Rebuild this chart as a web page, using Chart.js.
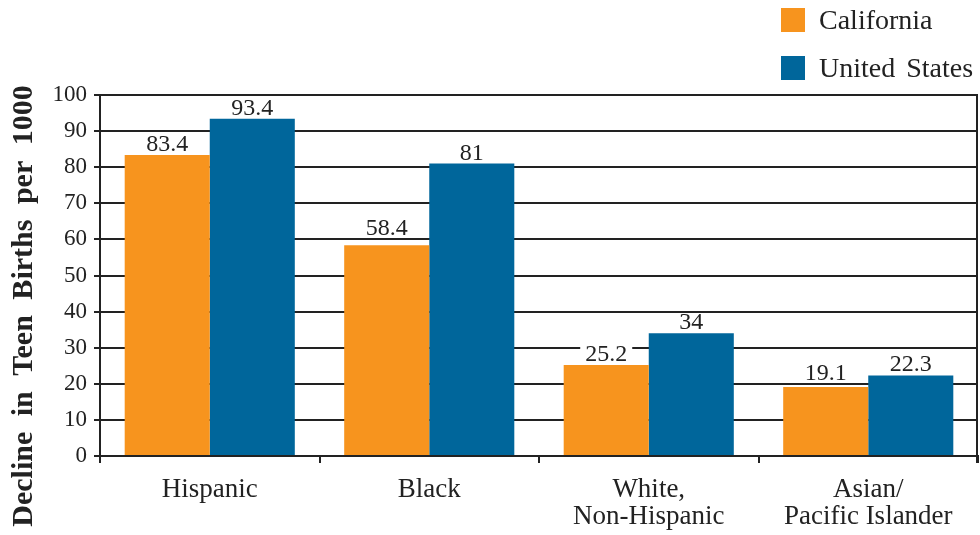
<!DOCTYPE html>
<html>
<head>
<meta charset="utf-8">
<script src="https://cdn.jsdelivr.net/npm/chart.js@4.4.1/dist/chart.umd.min.js"></script>
<style>
  html, body { margin: 0; padding: 0; background: #fff; }
  #wrap { position: relative; width: 980px; height: 535px; }
  #legend { position: absolute; left: 781px; top: 8px; font-family: "Liberation Serif", "DejaVu Serif", serif; font-size: 28px; color: #222; }
  .item { display: flex; align-items: center; height: 24px; margin-bottom: 24px; white-space: nowrap; }
  .swatch { width: 24px; height: 24px; margin-right: 14px; flex: none; }
  .item span { word-spacing: 4px; }
</style>
</head>
<body>
<div id="wrap">
  <canvas id="chart" width="980" height="535"></canvas>
  <div id="legend"></div>
</div>
<script>
const categories = [['Hispanic'], ['Black'], ['White,', 'Non-Hispanic'], ['Asian/', 'Pacific Islander']];
const seriesNames = ['California', 'United States'];
const californiaValues = [83.4, 58.4, 25.2, 19.1];
const unitedStatesValues = [93.4, 81, 34, 22.3];
const yTicks = [0, 10, 20, 30, 40, 50, 60, 70, 80, 90, 100];
const colors = ['#F7941E', '#00669B'];
const yTitle = 'Decline in Teen Births per 1000';

const FONT = '"Liberation Serif", "DejaVu Serif", serif';
const INK = '#222';

// legend built from the series names and colours
const legendEl = document.getElementById('legend');
seriesNames.forEach((name, i) => {
    const row = document.createElement('div');
    row.className = 'item';
    row.innerHTML = '<div class="swatch" style="background:' + colors[i] + '"></div><span>' + name + '</span>';
    legendEl.appendChild(row);
});

// value above each bar; if a gridline runs just above the bar the label
// hops over it, otherwise a white box breaks the gridline behind the text
const valueLabels = {
    id: 'valueLabels',
    afterDatasetsDraw(chart) {
        const ctx = chart.ctx;
        const y = chart.scales.y;
        ctx.save();
        ctx.font = '24px ' + FONT;
        ctx.textAlign = 'center';
        ctx.textBaseline = 'alphabetic';
        chart.data.datasets.forEach((ds, i) => {
            chart.getDatasetMeta(i).data.forEach((bar, j) => {
                const txt = String(ds.data[j]);
                const w = ctx.measureText(txt).width;
                let base = bar.y - 4;
                let boxed = false;
                yTicks.forEach(v => {
                    const gy = y.getPixelForValue(v);
                    if (gy >= base - 16 && gy <= base + 2) {
                        if (gy > base - 8) base = gy - 4;
                        else boxed = true;
                    }
                });
                if (boxed) {
                    ctx.fillStyle = '#fff';
                    ctx.fillRect(bar.x - w / 2 - 5, base - 16, w + 10, 17);
                }
                ctx.fillStyle = INK;
                ctx.fillText(txt, bar.x, base);
            });
        });
        ctx.restore();
    }
};

const frame = {
    id: 'frame',
    afterDraw(chart) {
        const ctx = chart.ctx;
        const a = chart.chartArea;
        ctx.save();
        ctx.strokeStyle = INK;
        ctx.lineWidth = 2;
        ctx.beginPath();
        ctx.moveTo(a.right - 1, a.top);
        ctx.lineTo(a.right - 1, a.bottom + 7);
        ctx.stroke();
        // rotated y title
        ctx.translate(24, 306);
        ctx.rotate(-Math.PI / 2);
        ctx.font = 'bold 30px ' + FONT;
        ctx.wordSpacing = '8px';
        ctx.fillStyle = INK;
        ctx.textAlign = 'center';
        ctx.textBaseline = 'middle';
        ctx.fillText(yTitle, 0, 0);
        ctx.restore();
    }
};

new Chart(document.getElementById('chart'), {
    type: 'bar',
    data: {
        labels: categories,
        datasets: [
            { label: seriesNames[0], data: californiaValues, backgroundColor: colors[0] },
            { label: seriesNames[1], data: unitedStatesValues, backgroundColor: colors[1] }
        ]
    },
    options: {
        responsive: false,
        animation: false,
        layout: { padding: { top: 95, right: 2, left: 0, bottom: 0 } },
        datasets: { bar: { barPercentage: 1, categoryPercentage: 0.775 } },
        plugins: { legend: { display: false }, tooltip: { enabled: false } },
        scales: {
            x: {
                offset: true,
                grid: { offset: true, drawOnChartArea: false, color: INK, lineWidth: 2, tickLength: 7 },
                border: { display: true, color: INK, width: 2 },
                ticks: { color: INK, font: { family: FONT, size: 27, lineHeight: 1 }, padding: 13, maxRotation: 0, autoSkip: false },
                afterFit: s => { s.height = 79; }
            },
            y: {
                min: 0,
                max: 100,
                afterBuildTicks: s => { s.ticks = yTicks.map(v => ({ value: v })); },
                grid: { color: INK, lineWidth: 2, tickLength: 6 },
                border: { display: true, color: INK, width: 2 },
                ticks: { color: INK, font: { family: FONT, size: 23 }, padding: 7 },
                afterFit: s => { s.width = 100; }
            }
        }
    },
    plugins: [valueLabels, frame]
});
</script>
</body>
</html>
